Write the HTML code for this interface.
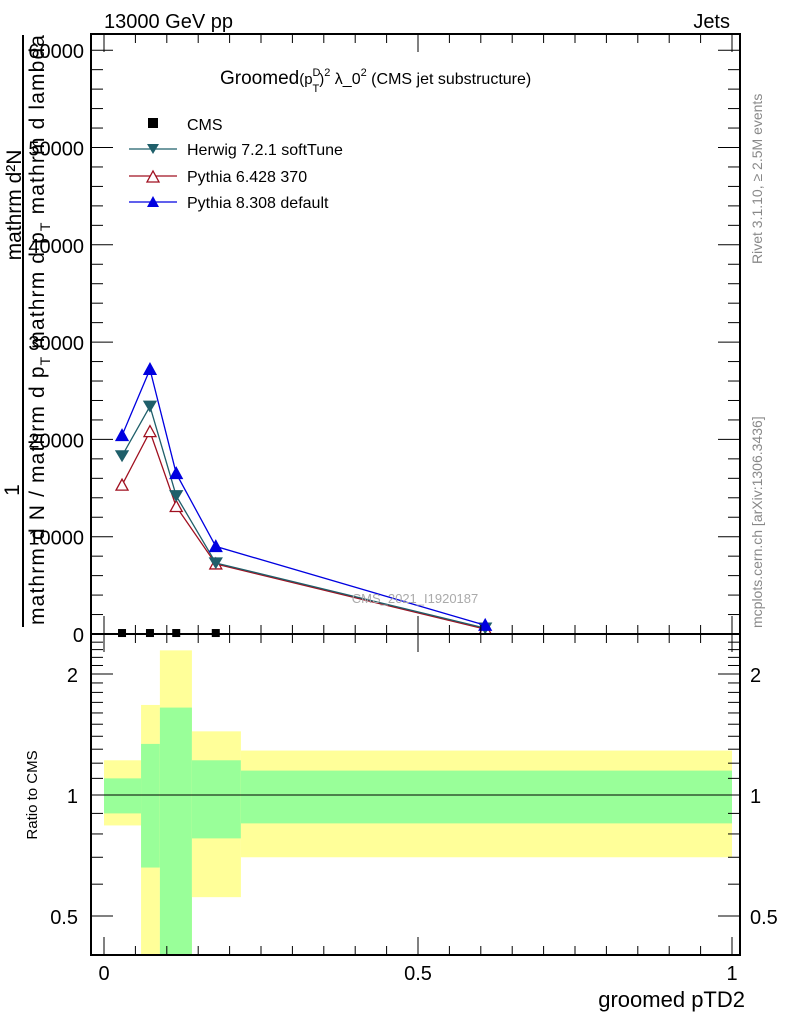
<!DOCTYPE html>
<html><head><meta charset="utf-8"><style>
body{margin:0;background:#fff}
text{font-family:"Liberation Sans",sans-serif}
</style></head><body>
<svg width="786" height="1024" xmlns="http://www.w3.org/2000/svg" id="chart">
<g id="bands"></g>
<g id="marks"></g>
<g id="axes"></g>
<text x="104" y="28" font-size="20">13000 GeV pp</text>
<text x="730" y="28" font-size="20" text-anchor="end">Jets</text>
<text x="220" y="84" font-size="19">Groomed<tspan font-size="15">(p</tspan><tspan font-size="11" dy="-8">D</tspan><tspan font-size="11" dx="-8" dy="16">T</tspan><tspan font-size="15" dy="-8">)</tspan><tspan font-size="11" dy="-8">2</tspan><tspan font-size="16" dy="8"> λ_0</tspan><tspan font-size="11" dy="-8">2</tspan><tspan font-size="16" dy="8"> (CMS jet substructure)</tspan></text>
<text x="415" y="603" font-size="13" fill="#aaa" text-anchor="middle">CMS_2021_I1920187</text>
<text transform="translate(762,264) rotate(-90)" font-size="14" fill="#888">Rivet 3.1.10, ≥ 2.5M events</text>
<text transform="translate(762,628) rotate(-90)" font-size="14" fill="#888">mcplots.cern.ch [arXiv:1306.3436]</text>
<g>
<text transform="translate(21,205) rotate(-90)" font-size="21" text-anchor="middle">mathrm d²N</text>
<text transform="translate(19,490) rotate(-90)" font-size="21" text-anchor="middle">1</text>
<line x1="23" y1="35" x2="23" y2="627" stroke="#000" stroke-width="2"/>
<text transform="translate(44,625) rotate(-90)" font-size="21" textLength="590" lengthAdjust="spacing">mathrm d N / mathrm d p<tspan font-size="14" dy="6">T</tspan><tspan dy="-6"> mathrm d p</tspan><tspan font-size="14" dy="6">T</tspan><tspan dy="-6"> mathrm d lambda</tspan></text>
</g>
<text transform="translate(37,795) rotate(-90)" font-size="15" text-anchor="middle">Ratio to CMS</text>
<text x="745" y="1007" font-size="22" text-anchor="end">groomed pTD2</text>
<g>
<g><rect x="148" y="118" width="10" height="10" fill="#000"/><text x="187" y="130" font-size="16">CMS</text></g>
<g><line x1="129" y1="149" x2="177" y2="149" stroke="#1f5f6a" stroke-width="1.3"/><path d="M147,144 L159,144 L153,154 Z" fill="#1f5f6a"/><text x="187" y="155" font-size="16">Herwig 7.2.1 softTune</text></g>
<g><line x1="129" y1="176" x2="177" y2="176" stroke="#a01020" stroke-width="1.3"/><path d="M147,182 L159,182 L153,171 Z" fill="#fff" stroke="#a01020" stroke-width="1.3"/><text x="187" y="182" font-size="16">Pythia 6.428 370</text></g>
<g><line x1="129" y1="202" x2="177" y2="202" stroke="#0000e0" stroke-width="1.3"/><path d="M147,207 L159,207 L153,196 Z" fill="#0000e0"/><text x="187" y="208" font-size="16">Pythia 8.308 default</text></g>
</g>
</svg>
<script>
const xs=[0.0287,0.0732,0.115,0.178,0.607];
const cmsVals=[100,100,100,100,100];
const herwigVals=[18300,23400,14200,7300,600];
const py6Vals=[15300,20800,13100,7200,500];
const py8Vals=[20400,27200,16500,9000,900];
const binEdges=[0,0.059,0.089,0.140,0.218,1.0];
const yellowHi=[1.22,1.675,2.29,1.44,1.29];
const yellowLo=[0.84,0.3,0.3,0.557,0.70];
const greenHi=[1.10,1.34,1.65,1.22,1.15];
const greenLo=[0.90,0.66,0.3,0.78,0.85];
const yTicks=[0,10000,20000,30000,40000,50000,60000];
const yTickLabels=["0","10000","20000","30000","40000","50000","60000"];
const xTicks=[0,0.5,1];
const xTickLabels=["0","0.5","1"];
const rTicks=[0.5,1,2];
const rTickLabels=["0.5","1","2"];

const NS="http://www.w3.org/2000/svg";
const L=91,R=740,T=34,M=634,B=955;
const X=v=>104+v*628;
const Y=v=>634-v*0.00973;
const RY=v=>Math.max(M, Math.min(B, 795-Math.log2(v)*121));
function mk(t,a,p){const e=document.createElementNS(NS,t);for(const k in a)e.setAttribute(k,a[k]);p.appendChild(e);return e;}
const bands=document.getElementById('bands'),marks=document.getElementById('marks'),axes=document.getElementById('axes');
for(let i=0;i<5;i++){
 const x0=X(binEdges[i]),x1=X(binEdges[i+1]);
 let r=mk('rect',{x:x0,y:RY(yellowHi[i]),width:x1-x0,height:RY(yellowLo[i])-RY(yellowHi[i]),fill:'#ffff99'},bands);
 
 
 let g=mk('rect',{x:x0,y:RY(greenHi[i]),width:x1-x0,height:RY(greenLo[i])-RY(greenHi[i]),fill:'#99ff99'},bands);
 
 
}
mk('line',{x1:L,x2:R,y1:RY(1),y2:RY(1),stroke:'#000','stroke-width':1},bands);
function series(vals,col,type,name){
 const pts=xs.map((x,i)=>X(x)+','+Y(vals[i])).join(' ');
 const pl=mk('polyline',{points:pts,fill:'none',stroke:col,'stroke-width':1.3},marks);
 
 
 xs.forEach((x,i)=>{const cx=X(x),cy=Y(vals[i]);let d;
  if(type==='down')d=`M${cx-6},${cy-5}L${cx+6},${cy-5}L${cx},${cy+5}Z`;else d=`M${cx-6},${cy+5}L${cx+6},${cy+5}L${cx},${cy-6}Z`;
  const p=mk('path',{d:d,fill:type==='open'?'#fff':col,stroke:col,'stroke-width':1.3},marks);
  
  });
}
series(py6Vals,'#a01020','open','pythia6');
series(herwigVals,'#1f5f6a','down','herwig');
series(py8Vals,'#0000e0','up','pythia8');
xs.slice(0,4).forEach((x,i)=>{const r=mk('rect',{x:X(x)-4,y:Y(cmsVals[i])-4,width:8,height:8,fill:'#000'},marks);
 
 });
mk('rect',{x:L,y:T,width:R-L,height:M-T,fill:'none',stroke:'#000','stroke-width':2},axes);
mk('rect',{x:L,y:M,width:R-L,height:B-M,fill:'none',stroke:'#000','stroke-width':2},axes);
for(let v=0;v<=61000;v+=2000){const y=Y(v),big=v%10000===0,l=big?22:12;
 mk('line',{x1:L,x2:L+l,y1:y,y2:y,stroke:'#000'},axes);mk('line',{x1:R,x2:R-l,y1:y,y2:y,stroke:'#000'},axes);}
yTicks.forEach((v,i)=>{const t=mk('text',{x:84,y:Y(v)+8,'font-size':20,'text-anchor':'end'},axes);t.textContent=yTickLabels[i];
 
 });
for(let k=0;k<=20;k++){const v=k*0.05;const x=X(v),big=(k%10===0),l=big?18:9;
 [[T,1],[M,-1],[M,1],[B,-1]].forEach(([y0,s])=>mk('line',{x1:x,x2:x,y1:y0,y2:y0+s*l,stroke:'#000'},axes));}
xTicks.forEach((v,i)=>{const t=mk('text',{x:X(v),y:980,'font-size':20,'text-anchor':'middle'},axes);t.textContent=xTickLabels[i];
 
 });
[0.4,0.5,0.6,0.7,0.8,0.9,1,1.1,1.2,1.3,1.4,1.5,1.6,1.7,1.8,1.9,2,2.1,2.2,2.3,2.4,2.5].forEach(v=>{const y=795-Math.log2(v)*121;if(y<M+2||y>B)return;
 const big=rTicks.includes(v),l=big?22:12;
 mk('line',{x1:L,x2:L+l,y1:y,y2:y,stroke:'#000'},axes);mk('line',{x1:R,x2:R-l,y1:y,y2:y,stroke:'#000'},axes);});
rTicks.forEach((v,i)=>{const y=795-Math.log2(v)*121;
 const t=mk('text',{x:78,y:y+8,'font-size':20,'text-anchor':'end'},axes);t.textContent=rTickLabels[i];
 
 
 const t2=mk('text',{x:750,y:y+8,'font-size':20},axes);t2.textContent=rTickLabels[i];
 
 });
</script>
</body></html>
